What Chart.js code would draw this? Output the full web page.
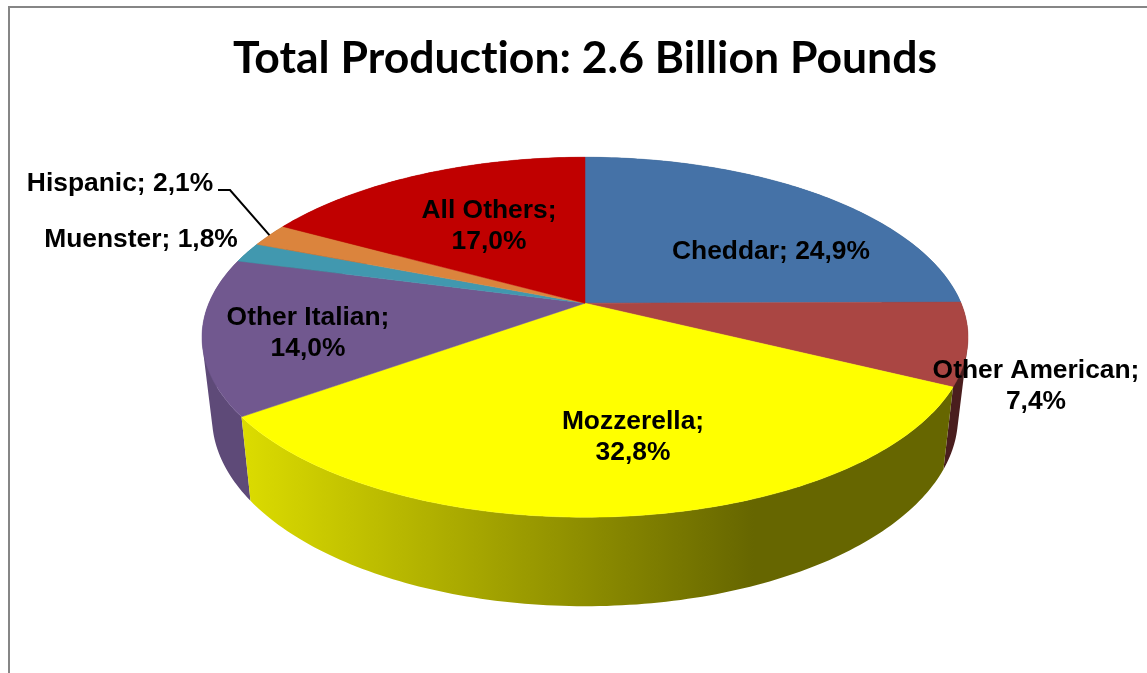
<!DOCTYPE html>
<html>
<head>
<meta charset="utf-8">
<title>Total Production</title>
<script src="https://cdn.jsdelivr.net/npm/chart.js@4/dist/chart.umd.min.js"></script>
<style>
    html, body { margin: 0; height: 100%; background: #fff; overflow: hidden; }
    #frame { position: absolute; left: 8px; top: 6px; width: 1200px; height: 800px; border: 2px solid #868686; }
    #cheese { position: absolute; left: 10px; top: 8px; }
</style>
</head>
<body>
<div id="frame"></div>
<canvas id="cheese" width="1150" height="665"></canvas>
<script>
const categories = ['Cheddar', 'Other American', 'Mozzerella', 'Other Italian', 'Muenster', 'Hispanic', 'All Others'];
const shares = [24.9, 7.4, 32.8, 14.0, 1.8, 2.1, 17.0];
const topColors = ['#4572A7', '#AA4643', '#FFFF00', '#71588F', '#4198AF', '#DB843D', '#C00000'];
const sideColors = ['#2f4d70', '#4a1e1e', '#666600', '#5e4a78', '#2b6675', '#935929', '#800000'];

// where each label sits on the canvas, and whether it wraps after the semicolon
const labelSpots = [
    { x: 761, y: 243.5, wrap: false },
    { x: 1026, y: 362.5, wrap: true },
    { x: 623, y: 413.5, wrap: true },
    { x: 298, y: 309.5, wrap: true },
    { x: 131, y: 231.5, wrap: false },
    { x: 110, y: 175.5, wrap: false },
    { x: 479, y: 202.5, wrap: true }
];

// tilt of the disc: how far the far rim is squeezed compared with the near rim
const TILT = 0.189;
const topFace = { ry: 180, cy: 34, rx: 383 };
const bottomFace = { ry: 189, cy: 114, rx: 373 };

// project a pie angle onto one of the two tilted faces
function project(arc, angle, face) {
    const u = Math.cos(angle);
    const v = -Math.sin(angle);
    const d = 1 + TILT * v;
    return {
        x: arc.x + face.rx * u * Math.sqrt(1 - TILT * TILT) / d,
        y: arc.y + face.cy - face.ry * (v + TILT) / d
    };
}

function rimPoints(arc, face) {
    const steps = Math.max(4, Math.ceil((arc.endAngle - arc.startAngle) * 60));
    const pts = [];
    for (let i = 0; i <= steps; i++) {
        pts.push(project(arc, arc.startAngle + (arc.endAngle - arc.startAngle) * i / steps, face));
    }
    return pts;
}

function addPolygon(ctx, pts) {
    pts.forEach((p, i) => i ? ctx.lineTo(p.x, p.y) : ctx.moveTo(p.x, p.y));
    ctx.closePath();
}

function signedArea(pts) {
    return pts.reduce((sum, p, i) => {
        const q = pts[(i + 1) % pts.length];
        return sum + p.x * q.y - q.x * p.y;
    }, 0);
}

const tiltedPie = {
    id: 'tiltedPie',
    beforeDraw(chart) {
        // keeps the "ti" in the title as two letters
        chart.ctx.textRendering = 'optimizeSpeed';
    },
    beforeDatasetsDraw(chart) {
        const ctx = chart.ctx;
        const arcs = chart.getDatasetMeta(0).data;

        // side walls first, far side to near side
        const order = arcs.map((arc, i) => i).sort((a, b) => {
            const mid = n => (arcs[n].startAngle + arcs[n].endAngle) / 2;
            return Math.sin(mid(a)) - Math.sin(mid(b));
        });
        order.forEach(i => {
            const arc = arcs[i];
            const upper = rimPoints(arc, topFace);
            const lower = rimPoints(arc, bottomFace);
            let fill = sideColors[i];
            if (categories[i] === 'Mozzerella') {
                const left = upper[upper.length - 1].x;
                const right = upper[0].x;
                fill = ctx.createLinearGradient(left, 0, right, 0);
                fill.addColorStop(0, '#dcdc00');
                fill.addColorStop(0.72, '#666600');
                fill.addColorStop(1, '#666600');
            }
            // one quad per step in a single path; all wound the same way so overlaps
            // near the tangent edges add up instead of cancelling
            ctx.beginPath();
            for (let k = 0; k < upper.length - 1; k++) {
                const quad = [upper[k], upper[k + 1], lower[k + 1], lower[k]];
                addPolygon(ctx, signedArea(quad) < 0 ? quad.reverse() : quad);
            }
            ctx.fillStyle = fill;
            ctx.fill();
        });

        // top face
        arcs.forEach(arc => {
            ctx.beginPath();
            addPolygon(ctx, [{ x: arc.x, y: arc.y }].concat(rimPoints(arc, topFace)));
            ctx.fillStyle = arc.options.backgroundColor;
            ctx.strokeStyle = arc.options.backgroundColor;
            ctx.lineWidth = 0.5;
            ctx.fill();
            ctx.stroke();
        });
        return false;
    },
    afterDraw(chart) {
        const ctx = chart.ctx;
        const arcs = chart.getDatasetMeta(0).data;

        // leader line for the Hispanic slice
        const hispanic = arcs[categories.indexOf('Hispanic')];
        const end = project(hispanic, (hispanic.startAngle + hispanic.endAngle) / 2, topFace);
        ctx.beginPath();
        ctx.moveTo(208, 182);
        ctx.lineTo(220, 182);
        ctx.lineTo(end.x, end.y);
        ctx.strokeStyle = '#000';
        ctx.lineWidth = 2;
        ctx.stroke();

        ctx.textRendering = 'auto';
        ctx.font = 'bold 26.4px "Liberation Sans"';
        ctx.fillStyle = '#000';
        ctx.textAlign = 'center';
        ctx.textBaseline = 'middle';
        categories.forEach((name, i) => {
            const spot = labelSpots[i];
            const pct = shares[i].toFixed(1).replace('.', ',') + '%';
            if (spot.wrap) {
                ctx.fillText(name + ';', spot.x, spot.y);
                ctx.fillText(pct, spot.x, spot.y + 31);
            } else {
                ctx.fillText(name + '; ' + pct, spot.x, spot.y);
            }
        });
    }
};

new Chart(document.getElementById('cheese'), {
    type: 'pie',
    data: {
        labels: categories,
        datasets: [{
            data: shares,
            backgroundColor: topColors,
            radius: 383
        }]
    },
    options: {
        responsive: false,
        animation: false,
        layout: { padding: { bottom: 159 } },
        plugins: {
            legend: { display: false },
            tooltip: { enabled: false },
            title: {
                display: true,
                text: 'Total Production: 2.6 Billion Pounds',
                color: '#000',
                font: { family: 'Lato', size: 44.5, weight: 'bold' },
                padding: { top: 24, bottom: 7 }
            }
        }
    },
    plugins: [tiltedPie]
});
</script>
</body>
</html>
